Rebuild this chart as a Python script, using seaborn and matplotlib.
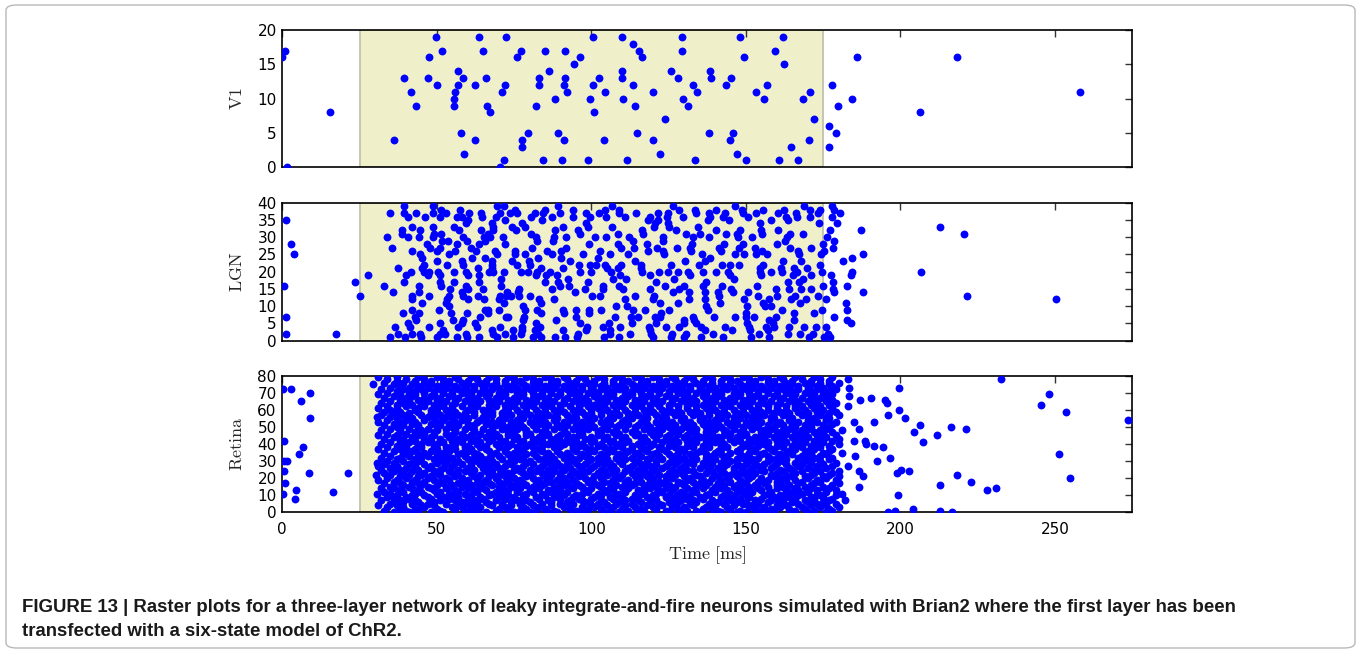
import matplotlib
matplotlib.use("Agg")
import matplotlib.pyplot as plt
import seaborn as sns
import pandas as pd
from matplotlib.patches import FancyBboxPatch

# ---------------- data ----------------
stim_on, stim_off = 25, 175
x_max = 275
x_ticks = [0, 50, 100, 150, 200, 250]
layer_names = [r'$\mathrm{V1}$', r'$\mathrm{LGN}$', r'$\mathrm{Retina}$']
layer_sizes = [20, 40, 80]
layer_ysteps = [5, 5, 10]
caption_1 = ("FIGURE 13 | Raster plots for a three-layer network of leaky integrate-and-fire neurons "
             "simulated with Brian2 where the first layer has been")
caption_2 = "transfected with a six-state model of ChR2."

# V1 spikes (time ms, neuron index)
v1_spikes = [
    (0, 16), (0.9, 17), (1.6, 0), (15.4, 8), (36, 4), (39.4, 13), (41.6, 11), (43.2, 9), (47.3, 16), (47.2, 13),
    (49.8, 19), (49.9, 12), (51.6, 17), (56.8, 14), (56.8, 12), (58.3, 13), (55.9, 11), (55.7, 10), (55.7, 9),
    (57.8, 5), (58.9, 2), (62.3, 12), (62.3, 4), (63.7, 19), (65, 17), (65.9, 13), (66.3, 9), (67.2, 8), (70.3, 0),
    (71.7, 1), (71.1, 11), (72.2, 12), (72.3, 19), (75.9, 16), (77.2, 17), (77.6, 4), (77.6, 3), (79.5, 5), (82, 9),
    (82.9, 13), (83, 12), (84.2, 1), (84.9, 17), (86.2, 14), (88.1, 10), (89.1, 5), (90.4, 1), (91, 4), (91, 12),
    (91.6, 13), (91.6, 17), (92.2, 11), (94.5, 15), (96.3, 16), (98.8, 1), (99.6, 10), (100.4, 19), (100.4, 12),
    (101, 8), (102.6, 13), (104, 4), (104.5, 11), (109.9, 19), (109.9, 14), (109.9, 13), (110.2, 10), (111.4, 1),
    (113.6, 18), (113.6, 12), (114.2, 9), (114.8, 5), (115.5, 17), (116.3, 16), (119.8, 4), (120, 11), (122.1, 2),
    (123.8, 7), (125.8, 14), (128.1, 13), (129.3, 19), (129.2, 17), (129.5, 10), (131.2, 9), (132.9, 12),
    (134.1, 11), (133.5, 1), (137.9, 5), (138.3, 14), (138.6, 13), (143.5, 12), (145.2, 13), (145.9, 5), (144.8, 4),
    (147, 2), (148.2, 19), (149.5, 16), (150.1, 1), (153.2, 11), (155.7, 10), (156.8, 12), (159.4, 17), (160.7, 1),
    (162.1, 19), (162.4, 15), (164.7, 3), (167, 1), (168.6, 10), (170.5, 4), (170.6, 11), (172, 7), (176.8, 3),
    (176.9, 6), (178, 12), (179.2, 5), (179.8, 9), (184.4, 10), (185.9, 16), (206.3, 8), (218.3, 16), (258, 11),
]

# LGN spikes (time ms, neuron index)
lgn_spikes = [
    (1.1, 35), (2.7, 28), (3.8, 25), (0.6, 16), (1.1, 7), (1.1, 2), (17.3, 2), (23.4, 17), (25.2, 13), (27.7, 19),
    (32.9, 16), (33.8, 30), (35.0, 37), (35.5, 27), (35.9, 14), (36.3, 4), (34.7, 1), (37.3, 21), (37.3, 2),
    (38.9, 8), (39.4, 17), (39.4, 39), (39.5, 37), (38.6, 32), (38.6, 31), (39.9, 19), (39.8, 1), (40.7, 30),
    (40.8, 36), (41.9, 33), (42.0, 26), (41.6, 20), (41.9, 13), (41.9, 12), (42.1, 9), (40.8, 5), (41.3, 4),
    (41.8, 2), (43.4, 37), (43.0, 7), (43.4, 6), (44.6, 32), (44.2, 30), (44.6, 25), (45.2, 24), (45.9, 22),
    (45.3, 21), (46.0, 20), (44.3, 16), (44.3, 14), (45.2, 11), (44.2, 8), (44.5, 2), (44.8, 1), (46.3, 36),
    (46.7, 28), (47.7, 27), (47.5, 20), (47.2, 19), (47.5, 13), (47.5, 4), (48.6, 39), (48.6, 37), (48.8, 33),
    (49.1, 31), (48.8, 30), (49.9, 26), (51.0, 27), (50.1, 23), (50.5, 20), (51.0, 19), (51.0, 17), (51.5, 16),
    (50.8, 9), (51.0, 5), (50.1, 1), (51.0, 2), (51.5, 38), (51.0, 36), (53.1, 37), (51.2, 31), (51.7, 29),
    (53.7, 29), (53.8, 25), (53.2, 22), (54.2, 15), (54.0, 13), (53.4, 12), (53.1, 11), (53.8, 10), (54.7, 8),
    (52.0, 3), (52.5, 2), (55.6, 33), (55.8, 26), (55.6, 20), (55.7, 17), (55.1, 6), (56.6, 36), (56.5, 28),
    (56.9, 4), (56.6, 1), (57.1, 32), (57.4, 38), (58.0, 36), (59.3, 34), (60.1, 35), (58.4, 30), (59.7, 29),
    (58.0, 23), (58.5, 22), (59.3, 20), (60.0, 19), (58.2, 14), (58.5, 13), (59.4, 16), (60.1, 15), (60.2, 12),
    (58.5, 6), (58.2, 5), (59.6, 8), (59.4, 2), (59.6, 1), (60.5, 37), (60.9, 27), (61.4, 24), (62.8, 26),
    (63.7, 28), (64.4, 37), (64.7, 36), (64.2, 32), (63.7, 19), (63.4, 21), (63.7, 17), (63.3, 13), (63.8, 7),
    (62.5, 5), (62.9, 4), (63.7, 1), (65.2, 30), (65.7, 29), (65.0, 15), (65.2, 12), (65.7, 9), (65.7, 24),
    (66.7, 31), (67.2, 30), (68.0, 34), (68.2, 33), (68.2, 32), (68.0, 23), (68.0, 22), (68.0, 21), (68.2, 20),
    (68.8, 26), (69.3, 25), (66.9, 20), (66.4, 8), (66.6, 9), (67.8, 3), (68.2, 2), (69.5, 1), (69.3, 39),
    (69.1, 36), (70.4, 37), (70.9, 18), (70.7, 16), (70.4, 13), (70.2, 12), (70.0, 9), (70.4, 4), (71.6, 39),
    (72.0, 35), (72.0, 28), (71.4, 30), (71.7, 20), (72.3, 13), (72.7, 14), (71.7, 11), (72.3, 7), (72.1, 2),
    (73.6, 37), (74.2, 33), (73.9, 13), (74.2, 23), (74.6, 3), (74.7, 1), (73.1, 7), (75.2, 38), (76.0, 37),
    (75.5, 32), (75.3, 26), (75.3, 25), (75.8, 22), (76.5, 15), (76.1, 14), (77.2, 20), (76.6, 13), (77.4, 34),
    (78.6, 25), (78.4, 33), (77.9, 10), (78.6, 9), (78.2, 7), (77.9, 6), (77.7, 4), (77.6, 3), (77.3, 2),
    (79.9, 23), (80.2, 22), (79.6, 20), (80.1, 13), (80.6, 31), (80.9, 27), (81.8, 37), (82.2, 30), (82.3, 29),
    (82.4, 20), (82.2, 19), (82.8, 24), (82.9, 12), (82.4, 9), (82.2, 5), (81.9, 3), (82.8, 2), (81.1, 1),
    (80.5, 36), (83.8, 21), (84.1, 35), (84.9, 38), (84.4, 37), (85.5, 26), (84.9, 17), (85.2, 19), (83.6, 8),
    (83.8, 11), (83.3, 4), (83.6, 1), (87.1, 36), (87.1, 25), (86.5, 20), (87.4, 15), (87.6, 29), (87.8, 30),
    (88.1, 32), (87.9, 12), (88.7, 6), (88.1, 1), (89.2, 39), (89.8, 37), (88.9, 19), (89.2, 17), (90.3, 26),
    (90.3, 24), (90.8, 21), (90.8, 33), (90.8, 9), (91.2, 8), (90.8, 3), (91.4, 1), (91.7, 27), (89.8, 16),
    (91.9, 30), (92.5, 18), (92.8, 16), (93.0, 23), (93.9, 38), (94.1, 36), (94.6, 14), (94.9, 9), (94.9, 7),
    (95.7, 32), (96.2, 31), (96.0, 22), (96.4, 20), (95.7, 2), (95.4, 1), (96.4, 5), (97.3, 25), (98.0, 15),
    (98.2, 34), (98.4, 37), (98.7, 4), (98.2, 3), (99.0, 33), (99.2, 28), (99.0, 17), (99.1, 9), (99.2, 8),
    (99.5, 22), (100.0, 20), (99.7, 36), (100.2, 13), (101.4, 22), (101.1, 30), (102.5, 37), (102.7, 26),
    (102.2, 24), (102.9, 13), (103.2, 9), (103.6, 16), (103.8, 15), (103.8, 4), (104.0, 1), (104.5, 38),
    (104.8, 36), (104.8, 30), (104.4, 22), (105.2, 21), (105.7, 5), (105.9, 3), (106.1, 2), (106.8, 39),
    (106.8, 33), (106.1, 25), (106.5, 20), (107.0, 18), (107.5, 7), (108.1, 10), (108.6, 31), (108.6, 28),
    (108.9, 38), (108.9, 37), (108.7, 21), (108.9, 16), (108.9, 1), (109.7, 27), (109.7, 22), (109.2, 19),
    (109.2, 4), (110.2, 15), (110.8, 36), (110.8, 12), (111.3, 18), (111.5, 10), (111.9, 25), (112.2, 30),
    (112.6, 2), (112.8, 7), (113.0, 5), (113.5, 29), (113.7, 27), (114.0, 23), (114.0, 13), (114.3, 37),
    (113.5, 9), (115.1, 7), (116.2, 22), (116.2, 21), (116.3, 32), (116.7, 31), (116.5, 20), (117.2, 9),
    (118.3, 35), (118.9, 36), (118.1, 28), (118.3, 26), (118.9, 19), (119.1, 15), (119.9, 12), (120.2, 13),
    (118.6, 4), (119.1, 3), (119.4, 2), (119.9, 1), (120.2, 33), (120.5, 34), (120.5, 7), (120.8, 5),
    (120.8, 17), (121.6, 37), (121.6, 35), (121.2, 27), (121.9, 20), (122.3, 11), (122.5, 8), (122.1, 7),
    (123.2, 30), (123.2, 29), (123.2, 26), (123.4, 25), (123.7, 16), (124.0, 4), (124.8, 34), (125.0, 33),
    (124.8, 37), (124.5, 36), (124.9, 20), (125.1, 9), (125.9, 22), (126.4, 39), (126.6, 18), (126.4, 14),
    (126.2, 2), (125.9, 1), (127.5, 32), (127.7, 27), (128.1, 20), (128.1, 11), (128.3, 4), (128.5, 38),
    (129.6, 36), (128.3, 15), (130.1, 16), (130.4, 23), (130.5, 31), (131.2, 20), (131.8, 19), (131.6, 14),
    (131.6, 12), (131.8, 27), (132.3, 26), (132.4, 28), (132.8, 30), (129.8, 6), (130.1, 5), (130.7, 2),
    (130.1, 1), (133.4, 38), (133.9, 37), (134.5, 33), (135.2, 31), (132.8, 7), (133.1, 6), (133.9, 5),
    (135.9, 25), (134.8, 22), (136.1, 20), (135.6, 4), (135.6, 1), (136.6, 23), (136.1, 16), (136.6, 14),
    (137.2, 17), (136.9, 12), (137.2, 10), (137.6, 9), (136.6, 3), (138.0, 37), (137.7, 35), (138.4, 36),
    (138.0, 30), (138.4, 24), (139.3, 2), (139.8, 7), (140.2, 38), (140.4, 32), (140.4, 20), (140.9, 14),
    (141.2, 13), (141.5, 11), (141.2, 27), (142.0, 26), (142.5, 36), (142.3, 22), (143.1, 37), (142.3, 16),
    (142.8, 28), (143.6, 31), (143.1, 4), (142.5, 1), (144.2, 20), (144.5, 35), (144.9, 22), (144.7, 19),
    (145.2, 15), (145.8, 14), (145.6, 3), (146.0, 18), (146.4, 39), (146.6, 25), (146.4, 7), (147.1, 31),
    (147.4, 30), (147.7, 27), (147.9, 22), (148.1, 32), (148.8, 38), (149.2, 37), (149.0, 28), (149.5, 25),
    (149.5, 12), (150.3, 10), (150.6, 14), (150.1, 8), (149.9, 7), (150.3, 5), (150.9, 4), (151.2, 3),
    (151.7, 1), (150.6, 36), (152.0, 30), (152.6, 7), (152.8, 27), (153.1, 25), (153.3, 37), (153.5, 16),
    (153.9, 13), (154.2, 2), (154.4, 34), (154.4, 20), (154.7, 21), (155.0, 32), (155.3, 31), (155.3, 26),
    (155.5, 38), (155.5, 22), (154.9, 19), (155.5, 11), (156.2, 10), (156.8, 25), (156.5, 4), (157.4, 6),
    (157.2, 3), (157.6, 1), (158.2, 35), (158.2, 20), (157.6, 12), (158.2, 10), (158.7, 5), (159.2, 4),
    (159.6, 7), (159.8, 15), (160.0, 13), (160.0, 28), (160.3, 37), (160.5, 32), (161.4, 21), (161.7, 20),
    (161.7, 9), (161.9, 23), (162.4, 38), (162.5, 29), (163.0, 36), (163.6, 35), (163.2, 30), (163.6, 17),
    (163.9, 15), (163.9, 4), (163.6, 2), (164.1, 31), (164.3, 27), (164.6, 12), (165.2, 19), (165.4, 21),
    (165.4, 6), (165.7, 8), (166.0, 13), (166.2, 37), (166.5, 36), (166.6, 20), (166.8, 26), (167.3, 25),
    (167.1, 17), (167.6, 2), (167.5, 11), (167.9, 15), (167.9, 23), (168.4, 31), (168.4, 18), (168.7, 4),
    (168.9, 39), (169.5, 12), (169.7, 21), (170.3, 1), (170.6, 38), (170.8, 36), (171.0, 27), (171.1, 19),
    (171.1, 15), (171.6, 2), (171.9, 8), (172.7, 4), (173.3, 13), (173.3, 37), (173.6, 34), (174.0, 38),
    (174.0, 22), (174.4, 25), (174.7, 20), (174.7, 9), (174.9, 28), (175.1, 26), (174.9, 16), (175.4, 1),
    (175.9, 12), (175.9, 4), (176.5, 2), (177.3, 1), (177.7, 39), (177.9, 36), (178.6, 38), (180.3, 37),
    (179.5, 34), (177.2, 32), (176.3, 30), (178.4, 29), (178.2, 27), (177.6, 19), (178.1, 17), (178.3, 15),
    (178.6, 14), (178.4, 7), (181.5, 23), (184.4, 24), (184.4, 20), (184.1, 19), (182.6, 16), (182.4, 11),
    (182.7, 9), (182.7, 6), (184.1, 5), (187.3, 32), (188.0, 25), (188.0, 14), (206.7, 20), (212.9, 33),
    (220.7, 31), (221.6, 13), (250.2, 12),
]

# Retina spike trains: entry k lists the spike times (ms) of neuron k
retina_trains = [
    [36, 41, 48, 52, 60, 66, 75, 80, 86, 89, 96, 104, 109, 115, 125, 129, 135, 142, 147, 150, 157, 165, 170, 176, 196.0, 216.8],
    [33, 40, 44, 51, 59, 63, 69, 77, 82, 88, 95, 98, 106, 112, 117, 124, 131, 134, 141, 148, 155, 159, 166, 172, 178, 198.2, 212.7],
    [38, 43, 50, 56, 61, 70, 73, 79, 85, 93, 99, 103, 110, 116, 121, 128, 136, 139, 145, 153, 158, 164, 169, 177, 204.1],
    [34, 39, 46, 55, 58, 64, 72, 78, 83, 91, 97, 101, 107, 114, 120, 126, 130, 137, 144, 151, 156, 161, 168, 174, 180],
    [31, 37, 45, 49, 57, 62, 68, 74, 81, 87, 92, 100, 105, 111, 118, 123, 127, 133, 140, 146, 152, 160, 163, 171, 176],
    [35, 42, 47, 53, 60, 67, 71, 77, 84, 90, 94, 102, 108, 113, 119, 122, 132, 138, 143, 149, 154, 162, 167, 173, 179],
    [39, 44, 49, 58, 63, 66, 74, 80, 87, 92, 98, 104, 109, 116, 125, 128, 134, 141, 147, 150, 157, 165, 170, 175],
    [32, 38, 43, 51, 56, 62, 69, 76, 79, 86, 93, 97, 103, 111, 115, 121, 129, 133, 139, 145, 153, 158, 162, 169, 177, 182],
    [4.0, 36, 41, 48, 54, 60, 65, 72, 78, 83, 90, 96, 100, 107, 113, 119, 126, 131, 136, 144, 148, 155, 160, 166, 172, 178],
    [34, 40, 47, 52, 57, 64, 70, 75, 82, 88, 94, 101, 106, 110, 118, 124, 127, 135, 142, 146, 151, 159, 164, 171, 175],
    [37, 42, 46, 55, 61, 67, 73, 78, 85, 91, 95, 103, 108, 114, 120, 125, 132, 137, 143, 150, 156, 161, 167, 174, 179, 199.3],
    [0.3, 30.6, 35, 43, 50, 54, 59, 68, 71, 79, 84, 89, 97, 102, 109, 116, 121, 128, 130, 138, 145, 149, 157, 163, 168, 173, 181],
    [16.3, 33, 39, 45, 51, 57, 63, 69, 76, 81, 87, 92, 99, 105, 111, 117, 123, 129, 134, 140, 147, 152, 158, 165, 170, 176],
    [4.3, 38, 44, 49, 56, 62, 66, 73, 80, 86, 90, 98, 104, 107, 115, 122, 126, 133, 139, 144, 150, 155, 163, 167, 173, 179, 227.9],
    [32, 36, 42, 48, 53, 60, 65, 71, 77, 83, 89, 94, 100, 106, 112, 119, 124, 131, 136, 142, 148, 154, 160, 166, 171, 177, 230.8],
    [35, 41, 47, 54, 58, 64, 70, 75, 81, 88, 93, 97, 103, 110, 117, 121, 127, 134, 140, 146, 151, 157, 162, 169, 175, 186.6],
    [39, 45, 50, 55, 61, 68, 74, 79, 84, 91, 96, 102, 108, 113, 118, 125, 130, 137, 143, 147, 153, 160, 164, 171, 178, 212.7],
    [0.9, 33, 38, 44, 52, 57, 63, 67, 72, 78, 85, 90, 95, 101, 106, 114, 120, 123, 129, 135, 141, 149, 156, 161, 167, 172, 180],
    [36, 42, 46, 51, 59, 65, 70, 76, 82, 87, 92, 99, 104, 111, 116, 122, 128, 133, 138, 145, 150, 154, 160, 168, 174, 222.9],
    [31, 37, 43, 49, 54, 60, 66, 73, 77, 83, 89, 94, 100, 107, 112, 119, 124, 131, 136, 142, 148, 157, 163, 166, 173, 179],
    [34, 40, 47, 53, 58, 63, 69, 75, 81, 86, 91, 98, 103, 109, 115, 120, 126, 132, 139, 144, 151, 155, 161, 170, 176, 254.7],
    [38, 44, 48, 56, 62, 67, 72, 79, 85, 90, 96, 101, 108, 114, 118, 124, 130, 135, 141, 147, 152, 159, 165, 169, 175, 180, 188.0],
    [30.3, 35, 41, 45, 51, 57, 64, 70, 74, 80, 87, 93, 97, 105, 110, 116, 122, 127, 134, 140, 145, 150, 158, 163, 171, 177, 218.3],
    [8.5, 21.3, 33, 39, 46, 50, 55, 61, 68, 73, 78, 84, 90, 95, 102, 107, 113, 119, 125, 129, 137, 143, 148, 153, 160, 166, 172, 178, 198.8],
    [0.5, 36, 42, 49, 54, 59, 66, 71, 77, 82, 88, 94, 99, 104, 111, 117, 121, 128, 133, 139, 146, 151, 156, 162, 168, 174, 180, 186.7, 202.6],
    [32, 38, 44, 51, 57, 62, 68, 75, 80, 86, 91, 97, 103, 108, 115, 120, 126, 131, 138, 142, 149, 155, 161, 165, 172, 200.3],
    [35, 40, 47, 52, 60, 65, 70, 76, 83, 88, 93, 100, 106, 112, 117, 123, 129, 135, 141, 146, 152, 158, 164, 170, 176],
    [30.8, 37, 43, 48, 55, 61, 67, 72, 78, 84, 90, 96, 101, 107, 113, 119, 124, 130, 137, 143, 148, 154, 159, 167, 173, 178, 183.0],
    [33, 41, 46, 53, 58, 64, 69, 74, 81, 87, 92, 98, 104, 110, 116, 121, 127, 133, 139, 144, 150, 156, 163, 168, 175],
    [30.5, 36, 42, 50, 56, 61, 66, 73, 79, 85, 89, 95, 102, 106, 114, 118, 125, 131, 136, 142, 147, 153, 160, 166, 171, 179],
    [0.4, 1.6, 34, 39, 44, 52, 57, 63, 68, 75, 80, 86, 93, 99, 103, 109, 115, 121, 128, 132, 138, 145, 151, 157, 162, 169, 174, 192.4],
    [37, 43, 49, 54, 60, 65, 71, 77, 83, 88, 94, 100, 105, 111, 118, 123, 129, 134, 140, 147, 152, 158, 163, 170, 177],
    [32, 38, 45, 51, 55, 62, 67, 74, 78, 85, 91, 96, 102, 108, 113, 119, 126, 130, 137, 143, 149, 154, 160, 167, 172, 178, 196.5],
    [35, 41, 47, 53, 59, 64, 70, 76, 82, 87, 93, 98, 104, 110, 116, 122, 127, 133, 139, 144, 150, 157, 162, 168, 174, 185.2],
    [5.5, 39, 44, 50, 57, 63, 68, 73, 79, 86, 90, 97, 103, 109, 114, 120, 125, 132, 137, 142, 148, 155, 161, 165, 171, 176, 251.3],
    [33, 40, 46, 52, 58, 62, 69, 75, 81, 86, 92, 99, 105, 111, 115, 121, 128, 134, 140, 145, 151, 156, 163, 169, 175, 181],
    [36, 42, 48, 54, 60, 67, 72, 77, 84, 89, 95, 101, 107, 112, 118, 124, 130, 135, 141, 147, 153, 159, 164, 170, 177],
    [31, 38, 43, 50, 56, 61, 66, 72, 78, 83, 89, 94, 100, 106, 113, 117, 123, 129, 136, 142, 148, 153, 158, 166, 172, 178],
    [6.8, 34, 40, 45, 53, 59, 64, 70, 76, 81, 88, 94, 98, 104, 110, 116, 122, 127, 133, 138, 144, 151, 157, 162, 168, 174, 194.4],
    [37, 44, 49, 55, 60, 66, 73, 79, 84, 90, 96, 102, 108, 113, 119, 125, 131, 136, 142, 149, 154, 160, 165, 171, 177, 191.4],
    [32, 39, 45, 50, 56, 63, 69, 74, 80, 86, 91, 97, 103, 109, 115, 120, 126, 132, 138, 143, 150, 156, 161, 167, 173, 180, 188.9],
    [35, 41, 47, 52, 58, 64, 71, 77, 82, 88, 93, 100, 106, 111, 117, 123, 128, 134, 140, 146, 152, 157, 163, 169, 175, 207.3],
    [0.6, 38, 43, 48, 55, 61, 67, 72, 78, 84, 90, 95, 101, 107, 112, 118, 125, 131, 137, 142, 148, 154, 160, 166, 172, 178, 184.9, 188.6],
    [33, 39, 46, 51, 57, 63, 68, 75, 81, 87, 92, 98, 104, 110, 116, 121, 127, 133, 139, 145, 151, 156, 162, 168, 174, 180],
    [36, 42, 48, 54, 59, 66, 70, 76, 83, 89, 94, 100, 105, 111, 117, 124, 130, 135, 141, 147, 153, 159, 165, 170, 176],
    [31, 37, 44, 49, 55, 61, 67, 73, 79, 85, 90, 96, 102, 108, 114, 120, 125, 131, 137, 143, 149, 155, 161, 167, 173, 179, 211.7],
    [34, 40, 46, 53, 58, 64, 69, 75, 80, 86, 92, 97, 103, 109, 115, 122, 128, 134, 139, 145, 150, 157, 163, 169, 175],
    [38, 43, 49, 56, 62, 67, 73, 79, 84, 91, 96, 102, 107, 113, 119, 126, 132, 137, 144, 148, 155, 160, 166, 172, 178, 204.3],
    [32, 38, 45, 50, 56, 62, 68, 74, 79, 85, 91, 97, 103, 108, 114, 121, 127, 133, 138, 143, 149, 156, 162, 168, 174, 181],
    [35, 41, 47, 53, 59, 65, 71, 76, 82, 88, 94, 99, 105, 111, 117, 123, 129, 134, 140, 146, 152, 158, 164, 170, 176, 186.7, 221.1],
    [37, 44, 50, 55, 61, 68, 73, 78, 85, 90, 96, 101, 108, 114, 119, 125, 131, 137, 142, 149, 154, 159, 166, 171, 177, 216.3],
    [33, 39, 44, 51, 57, 62, 69, 75, 81, 86, 92, 98, 104, 109, 115, 122, 127, 133, 139, 145, 151, 157, 162, 169, 175, 206.4],
    [36, 42, 48, 54, 60, 66, 71, 77, 83, 89, 95, 100, 106, 112, 118, 124, 130, 136, 141, 147, 153, 160, 165, 171, 178],
    [31, 38, 43, 50, 56, 63, 68, 74, 80, 85, 91, 97, 103, 110, 116, 121, 126, 132, 138, 144, 150, 155, 161, 167, 173, 179, 185.0, 191.3],
    [34, 40, 46, 52, 58, 64, 70, 76, 82, 88, 93, 99, 105, 111, 117, 123, 129, 135, 140, 146, 152, 158, 164, 170, 176, 273.5],
    [8.8, 37, 42, 49, 55, 60, 66, 72, 78, 84, 89, 95, 101, 107, 113, 118, 124, 130, 136, 142, 148, 154, 159, 165, 172, 177, 201.5],
    [30.5, 35, 41, 47, 53, 59, 65, 71, 77, 82, 88, 94, 100, 106, 112, 117, 123, 129, 135, 141, 146, 152, 158, 164, 170, 176],
    [32, 39, 45, 51, 57, 62, 68, 74, 80, 86, 92, 98, 103, 109, 115, 121, 127, 133, 138, 144, 150, 156, 162, 168, 174, 180, 195.8],
    [36, 41, 48, 54, 59, 66, 71, 77, 83, 89, 95, 100, 106, 112, 118, 124, 129, 135, 141, 147, 153, 159, 164, 170, 177],
    [33, 38, 44, 50, 56, 62, 68, 73, 79, 85, 91, 97, 103, 108, 114, 120, 126, 132, 138, 143, 149, 155, 161, 167, 173, 179, 253.5],
    [35, 43, 48, 53, 60, 65, 72, 76, 82, 88, 94, 100, 105, 111, 117, 123, 128, 134, 140, 146, 152, 157, 163, 169, 175, 199.4],
    [31, 37, 44, 50, 55, 61, 67, 73, 79, 85, 90, 96, 102, 108, 114, 119, 125, 131, 137, 143, 149, 154, 160, 166, 172, 178],
    [34, 40, 46, 52, 58, 63, 69, 75, 81, 87, 93, 99, 104, 110, 116, 122, 128, 134, 139, 145, 151, 157, 163, 168, 174, 183.0],
    [37, 42, 49, 55, 61, 67, 72, 78, 84, 90, 96, 101, 107, 113, 119, 125, 131, 136, 142, 148, 154, 160, 166, 171, 177, 245.5],
    [32, 39, 45, 51, 56, 62, 68, 74, 80, 86, 91, 97, 103, 109, 115, 121, 126, 132, 138, 144, 150, 156, 161, 167, 173, 179, 195.5],
    [5.9, 35, 41, 47, 53, 59, 64, 70, 76, 82, 88, 94, 99, 105, 111, 117, 123, 129, 134, 140, 146, 152, 158, 164, 170, 176],
    [38, 44, 50, 56, 61, 67, 73, 79, 85, 91, 96, 102, 108, 114, 120, 126, 131, 137, 143, 149, 155, 161, 166, 172, 178, 186.9, 195.0],
    [33, 40, 46, 51, 57, 63, 69, 75, 81, 86, 92, 98, 104, 110, 116, 121, 127, 133, 139, 145, 151, 156, 162, 168, 174, 190.5],
    [36, 42, 48, 54, 60, 66, 71, 77, 83, 89, 95, 101, 106, 112, 118, 124, 130, 136, 141, 147, 153, 159, 165, 171, 176, 183.3],
    [31, 38, 43, 49, 55, 61, 67, 72, 78, 84, 90, 96, 102, 107, 113, 119, 125, 131, 137, 142, 148, 154, 160, 166, 172, 178, 248.2],
    [9.0, 34, 41, 46, 52, 58, 64, 70, 76, 81, 87, 93, 99, 105, 111, 116, 122, 128, 134, 140, 146, 151, 157, 163, 169, 175],
    [37, 43, 49, 55, 60, 66, 72, 78, 84, 90, 95, 101, 107, 113, 119, 125, 130, 136, 142, 148, 154, 160, 165, 171, 177],
    [0.3, 2.9, 32, 39, 45, 51, 57, 62, 68, 74, 80, 86, 92, 97, 103, 109, 115, 121, 127, 132, 138, 144, 150, 156, 162, 167, 173, 179],
    [35, 41, 47, 53, 59, 65, 70, 76, 82, 88, 94, 100, 105, 111, 117, 123, 129, 135, 140, 146, 152, 158, 164, 170, 175, 183.2, 199.5],
    [38, 44, 50, 56, 62, 68, 73, 79, 85, 91, 97, 103, 108, 114, 120, 126, 132, 138, 143, 149, 155, 161, 167, 173, 178],
    [29.5, 36, 42, 48, 54, 60, 66, 72, 78, 83, 89, 95, 101, 107, 113, 118, 124, 130, 136, 142, 148, 153, 159, 165, 171, 177],
    [33, 39, 46, 52, 58, 64, 69, 75, 81, 87, 93, 99, 104, 110, 116, 122, 128, 134, 139, 145, 151, 157, 163, 169, 174, 180],
    [37, 43, 48, 54, 60, 66, 72, 77, 83, 89, 95, 101, 107, 112, 118, 124, 130, 136, 142, 147, 153, 159, 165, 171, 177],
    [34, 40, 46, 52, 57, 63, 69, 75, 81, 87, 92, 98, 104, 110, 116, 122, 127, 133, 139, 145, 151, 157, 162, 168, 174, 183.0, 232.4],
    [31, 37, 44, 50, 56, 61, 67, 73, 79, 85, 91, 96, 102, 108, 114, 120, 126, 131, 137, 143, 149, 155, 161, 166, 172, 178],
]

# ---------------- build tables ----------------
v1_df = pd.DataFrame(v1_spikes, columns=["t", "i"])
lgn_df = pd.DataFrame(lgn_spikes, columns=["t", "i"])
ret_df = pd.DataFrame([(t, k) for k, train in enumerate(retina_trains) for t in train], columns=["t", "i"])
layer_dfs = [v1_df, lgn_df, ret_df]

# ---------------- figure ----------------
sns.set_style("white")
plt.rcParams['font.family'] = ['DejaVu Sans']
plt.rcParams['mathtext.fontset'] = 'cm'

W, H = 1362, 652
fig = plt.figure(figsize=(W / 100, H / 100), dpi=100)

frame = FancyBboxPatch((6 / W, 4 / H), 1349 / W, 643 / H,
                       boxstyle="round,pad=0,rounding_size=0.008",
                       transform=fig.transFigure, facecolor='none',
                       edgecolor='#b8b8b8', linewidth=1.0)
fig.patches.append(frame)

left, width = 282.3 / W, 850 / W
panels_px = [(30.0, 167.3), (202.7, 340.7), (375.7, 512.3)]

for k, (top, bot) in enumerate(panels_px):
    ax = fig.add_axes([left, 1 - bot / H, width, (bot - top) / H])
    ax.axvspan(stim_on, stim_off, facecolor='#efefca', edgecolor='#c2c2ae', linewidth=1.3, zorder=0)
    sns.scatterplot(data=layer_dfs[k], x="t", y="i", ax=ax, color='#0000ff', s=32,
                    linewidth=0, legend=False, zorder=3)
    ymax = layer_sizes[k]
    ax.set_xlim(0, x_max)
    ax.set_ylim(0, ymax)
    ax.set_xticks(x_ticks)
    ax.set_yticks(list(range(0, ymax + 1, layer_ysteps[k])))
    ax.tick_params(direction='in', top=True, right=True, length=5, width=1,
                   labelsize=11, pad=4, color='#333333', labelcolor='black')
    ax.tick_params(axis='x', pad=7)
    for s in ax.spines.values():
        s.set_linewidth(1.2)
        s.set_color('black')
    ax.set_ylabel(layer_names[k], fontsize=13)
    ax.yaxis.set_label_coords(-0.043, 0.5)
    if k < 2:
        ax.set_xlabel('')
        ax.tick_params(axis='x', labelbottom=False)
    else:
        ax.set_xlabel(r'$\mathrm{Time\ [ms]}$', fontsize=13, labelpad=5)

fig.text(22 / W, 1 - 608 / H, caption_1, fontsize=13.4, fontweight='bold',
         family=['Liberation Sans', 'DejaVu Sans'], va='center', ha='left', color='#1a1a1a')
fig.text(22 / W, 1 - 632 / H, caption_2, fontsize=13.4, fontweight='bold',
         family=['Liberation Sans', 'DejaVu Sans'], va='center', ha='left', color='#1a1a1a')

fig.savefig("out.png", dpi=100)
